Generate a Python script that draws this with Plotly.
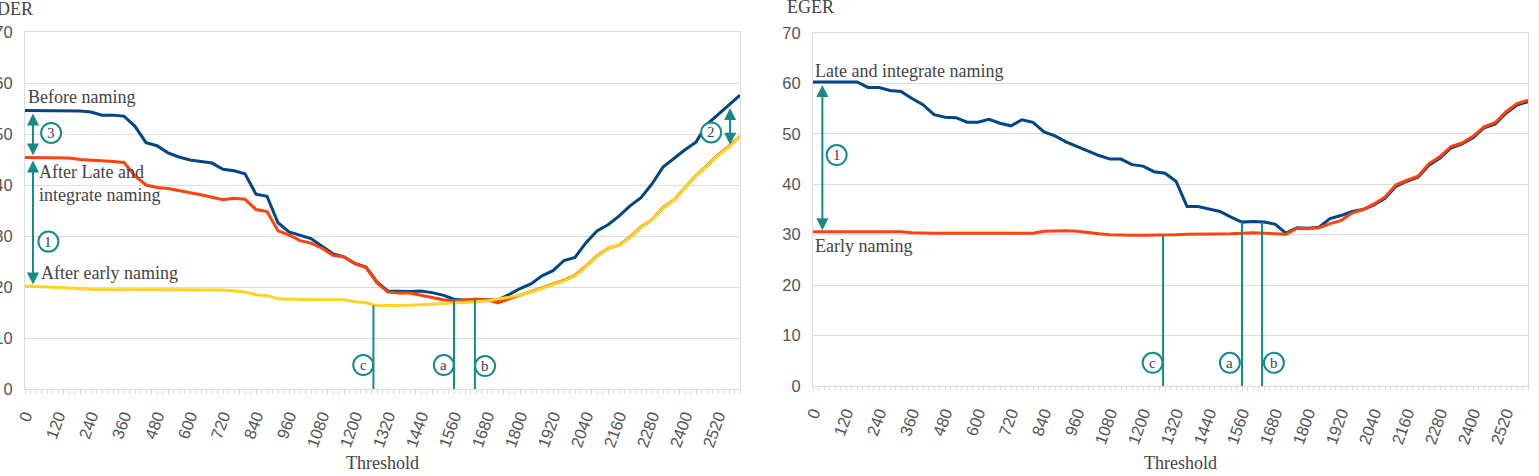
import plotly.graph_objects as go

# ---------------- data ----------------
thresholds = [0, 40, 80, 120, 160, 200, 240, 280, 320, 360, 400, 440, 480, 520, 560, 600,
              640, 680, 720, 760, 800, 840, 880, 920, 960, 1000, 1040, 1080, 1120, 1160,
              1200, 1240, 1280, 1320, 1360, 1400, 1440, 1480, 1520, 1560, 1600, 1640, 1680,
              1720, 1760, 1800, 1840, 1880, 1920, 1960, 2000, 2040, 2080, 2120, 2160, 2200,
              2240, 2280, 2320, 2360, 2400, 2440, 2480, 2520, 2560, 2600]

der_before = [54.6, 54.6, 54.6, 54.6, 54.6, 54.5, 54.3, 53.7, 53.7, 53.5, 51.5, 48.3, 47.7,
              46.3, 45.5, 44.9, 44.6, 44.3, 43.1, 42.8, 42.2, 38.2, 37.8, 32.6, 30.8, 30.1,
              29.5, 28.0, 26.5, 25.9, 24.6, 23.9, 21.0, 19.2, 19.1, 19.1, 19.2, 18.9, 18.4,
              17.6, 17.4, 17.6, 17.5, 17.5, 18.5, 19.7, 20.6, 22.2, 23.2, 25.2, 25.8, 28.7,
              31.0, 32.2, 33.9, 35.9, 37.5, 40.2, 43.5, 45.2, 46.9, 48.4, 51.9, 53.8, 55.8, 57.6]

der_late = [45.4, 45.4, 45.4, 45.3, 45.3, 45.0, 44.9, 44.7, 44.6, 44.4, 41.8, 40.0, 39.5,
            39.3, 38.9, 38.6, 38.1, 37.6, 37.1, 37.4, 37.2, 35.2, 34.8, 31.0, 30.2, 29.1,
            28.6, 27.6, 26.2, 25.9, 24.6, 23.8, 20.8, 19.0, 18.8, 18.8, 18.4, 18.0, 17.5,
            17.3, 17.5, 17.6, 17.5, 16.9, 17.7, 18.4, 19.0, 19.8, 20.6, 21.3, 22.3, 24.1,
            26.1, 27.6, 28.2, 29.8, 31.8, 33.2, 35.6, 37.1, 39.5, 41.9, 43.8, 45.9, 47.6, 49.5]

der_early = [20.2, 20.1, 20.1, 20.0, 19.9, 19.7, 19.5, 19.5, 19.5, 19.5, 19.5, 19.5, 19.4,
             19.4, 19.4, 19.4, 19.4, 19.4, 19.4, 19.2, 19.0, 18.5, 18.3, 17.7, 17.6, 17.6,
             17.5, 17.5, 17.5, 17.5, 17.1, 16.9, 16.3, 16.3, 16.3, 16.4, 16.5, 16.6, 16.7,
             16.8, 17.0, 17.1, 17.3, 17.6, 18.0, 18.4, 19.0, 19.7, 20.5, 21.2, 22.2, 24.0,
             26.0, 27.6, 28.2, 29.7, 31.7, 33.2, 35.5, 37.1, 39.5, 41.9, 43.7, 45.8, 47.5, 49.5]

eger_late = [60.3, 60.3, 60.3, 60.3, 60.3, 59.2, 59.2, 58.6, 58.4, 57.0, 55.8, 53.8, 53.3,
             53.2, 52.3, 52.3, 52.9, 52.1, 51.6, 52.8, 52.3, 50.4, 49.6, 48.4, 47.5, 46.5,
             45.7, 45.0, 45.0, 43.9, 43.6, 42.5, 42.2, 40.6, 35.6, 35.6, 35.1, 34.6, 33.5,
             32.5, 32.6, 32.5, 32.1, 30.3, 31.4, 31.3, 31.5, 33.2, 33.8, 34.6, 35.0, 35.9,
             37.2, 39.6, 40.6, 41.4, 43.8, 45.2, 47.2, 48.0, 49.2, 51.2, 51.9, 54.1, 55.7, 56.4]

eger_early = [30.6, 30.6, 30.6, 30.6, 30.6, 30.6, 30.6, 30.6, 30.6, 30.4, 30.3, 30.3, 30.3,
              30.3, 30.3, 30.3, 30.3, 30.3, 30.3, 30.3, 30.3, 30.7, 30.8, 30.8, 30.7, 30.4,
              30.2, 30.0, 29.9, 29.9, 29.9, 29.9, 29.9, 30.0, 30.1, 30.1, 30.1, 30.2, 30.2,
              30.3, 30.4, 30.3, 30.2, 30.1, 31.3, 31.2, 31.4, 32.2, 32.8, 34.3, 35.0, 36.1,
              37.5, 39.9, 40.8, 41.6, 44.1, 45.5, 47.5, 48.2, 49.5, 51.4, 52.2, 54.4, 56.0, 56.7]

x_tick_labels = [0, 120, 240, 360, 480, 600, 720, 840, 960, 1080, 1200, 1320, 1440, 1560,
                 1680, 1800, 1920, 2040, 2160, 2280, 2400, 2520]
y_tick_labels = [0, 10, 20, 30, 40, 50, 60, 70]

# ---------------- style ----------------
BLUE = "#004586"
RED = "#ff420e"
YELLOW = "#ffd320"
TEAL = "#17898b"
TXT = "#444444"
GRID = "#dcdcdc"
SERIF = "Liberation Serif, Times New Roman, serif"
SANS = "Liberation Sans, Arial, sans-serif"
W, H = 1539, 476

fig = go.Figure()

def add_line(y, color, xa, ya):
    fig.add_trace(go.Scatter(x=thresholds, y=y, mode="lines",
                             line=dict(color=color, width=3),
                             xaxis=xa, yaxis=ya, showlegend=False, hoverinfo="skip"))

add_line(der_before, BLUE, "x", "y")
add_line(der_late, RED, "x", "y")
add_line(der_early, YELLOW, "x", "y")
add_line(eger_late, BLUE, "x2", "y2")
add_line(eger_early, RED, "x2", "y2")

def xaxis_cfg(domain, anchor):
    return dict(domain=domain, anchor=anchor, range=[0, 2600], tickmode="array",
                tickvals=x_tick_labels, ticktext=[str(v) for v in x_tick_labels],
                tickangle=-70, tickfont=dict(family=SANS, size=16.5, color="#555555"),
                showgrid=False, zeroline=False, showline=True, linecolor=GRID, mirror=True,
                ticks="outside", ticklen=4, tickcolor=GRID, automargin=False,
                minor=dict(dtick=20, tick0=0, ticks="outside", ticklen=4, tickcolor=GRID,
                           showgrid=False),
                ticklabelstandoff=6)

def yaxis_cfg(domain, anchor):
    return dict(domain=domain, anchor=anchor, range=[0, 70], tickmode="array",
                tickvals=y_tick_labels, ticktext=[str(v) for v in y_tick_labels],
                tickfont=dict(family=SANS, size=16.5, color="#555555"),
                showgrid=True, gridcolor=GRID, gridwidth=1, zeroline=False,
                showline=True, linecolor=GRID, mirror=True, ticks="", automargin=False,
                ticklabelstandoff=8)

fig.update_layout(
    width=W, height=H, autosize=False,
    margin=dict(l=0, r=0, t=0, b=0, autoexpand=False),
    paper_bgcolor="white", plot_bgcolor="white",
    xaxis=xaxis_cfg([25 / W, 740 / W], "y"),
    yaxis=yaxis_cfg([(H - 389) / H, (H - 32) / H], "x"),
    xaxis2=xaxis_cfg([813 / W, 1528 / W], "y2"),
    yaxis2=yaxis_cfg([(H - 386) / H, (H - 33) / H], "x2"),
)

annotations = []
shapes = []

def text(x, y, s, xref="x", yref="y", xanchor="left", size=18, align="left"):
    annotations.append(dict(x=x, y=y, xref=xref, yref=yref, text=s, showarrow=False,
                            xanchor=xanchor, yanchor="middle", align=align,
                            font=dict(family=SERIF, size=size, color=TXT)))

def darrow(x, y0, y1, xref="x", yref="y"):
    annotations.append(dict(x=x, y=y0, ax=x, ay=y1, xref=xref, yref=yref,
                            axref=xref, ayref=yref, text="", showarrow=True,
                            arrowhead=2, arrowside="end+start", arrowsize=1.2,
                            arrowwidth=2, arrowcolor=TEAL, standoff=0, startstandoff=0))

def circle(x, y, s, xref="x", yref="y", r=10):
    shapes.append(dict(type="circle", xref=xref, yref=yref, xsizemode="pixel",
                       ysizemode="pixel", xanchor=x, yanchor=y, x0=-r, x1=r, y0=-r, y1=r,
                       line=dict(color=TEAL, width=2), fillcolor="white", layer="above"))
    annotations.append(dict(x=x, y=y, xref=xref, yref=yref, text=s, showarrow=False,
                            xanchor="center", yanchor="middle",
                            font=dict(family=SERIF, size=15, color=TXT)))

def vline(x, ytop, xref="x", yref="y"):
    shapes.append(dict(type="line", xref=xref, yref=yref, x0=x, x1=x, y0=0, y1=ytop,
                       line=dict(color=TEAL, width=2), layer="above"))

# left chart (DER)
vline(1267, 16.4)
vline(1560, 17.6)
vline(1636, 17.6)
circle(1230, 4.7, "c")
circle(1523, 4.7, "a")
circle(1673, 4.5, "b")
darrow(29, 45.8, 54.3)
darrow(29, 20.5, 45.1)
darrow(2564, 47.9, 55.4)
circle(95, 50.2, "3")
circle(85, 28.9, "1")
circle(2495, 50.3, "2")
text(4, 57.3, "Before naming")
text(44, 40.2, "After Late and<br>integrate naming")
text(52, 22.7, "After early naming")

# right chart (EGER)
vline(1273, 29.9, "x2", "y2")
vline(1560, 32.5, "x2", "y2")
vline(1633, 32.5, "x2", "y2")
circle(1235, 4.6, "c", "x2", "y2")
circle(1516, 4.6, "a", "x2", "y2")
circle(1676, 4.6, "b", "x2", "y2")
darrow(34, 30.9, 60.0, "x2", "y2")
circle(86, 45.8, "1", "x2", "y2")
text(0, 62.5, "Late and integrate naming", "x2", "y2")
text(0, 27.8, "Early naming", "x2", "y2")

# titles
text(35 / W, (H - 9) / H, "DER", "paper", "paper", xanchor="right")
text(785 / W, (H - 7) / H, "EGER", "paper", "paper")
text(382 / W, (H - 463) / H, "Threshold", "paper", "paper", xanchor="center")
text(1180 / W, (H - 463) / H, "Threshold", "paper", "paper", xanchor="center")

fig.update_layout(annotations=annotations, shapes=shapes)

fig.write_html("out.html")
